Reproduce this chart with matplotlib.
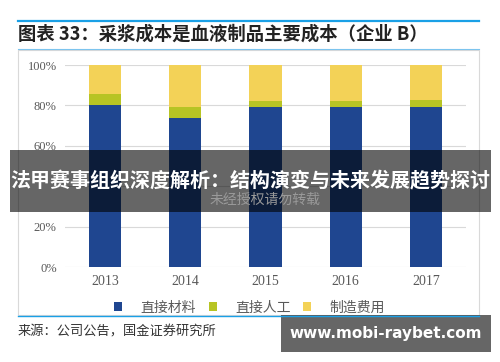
import matplotlib
matplotlib.use("Agg")
import matplotlib.pyplot as plt
import numpy as np
from matplotlib.patches import Rectangle

plt.rcParams['font.family'] = ['Noto Sans CJK SC', 'DejaVu Sans']

years = ['2013', '2014', '2015', '2016', '2017']
materials = [0.80, 0.736, 0.79, 0.79, 0.793]   # 直接材料
labour = [0.056, 0.054, 0.033, 0.033, 0.035]   # 直接人工
overhead = [1 - m - l for m, l in zip(materials, labour)]  # 制造费用
series_names = ['直接材料', '直接人工', '制造费用']
colors = ['#1f4690', '#b7c424', '#f3d257']
ytick_vals = [0, 0.2, 0.4, 0.6, 0.8, 1.0]
ytick_labels = ['0%', '20%', '', '60%', '80%', '100%']  # 40% sits under the banner

fig = plt.figure(figsize=(5, 3.62), dpi=100)

# header lines and frame
fig.add_artist(plt.Line2D([0.036, 0.958], [0.943, 0.943], color='#1aa0e6', lw=1.6))
fig.add_artist(plt.Line2D([0.036, 0.958], [0.864, 0.864], color='#7cc4ee', lw=0.8))
fig.add_artist(plt.Line2D([0.036, 0.958], [0.127, 0.127], color='#1aa0e6', lw=1.0))
fig.add_artist(Rectangle((0.036, 0.13), 0.922, 0.732, fill=False, ec='#d9d9d9', lw=0.8))

fig.text(0.036, 0.907, '图表 33：采浆成本是血液制品主要成本（企业 B）', fontsize=13.2,
         fontweight='bold', style='italic', color='#222222', va='center', ha='left')
fig.text(0.036, 0.083, '来源：公司公告，国金证券研究所', fontsize=9.5, color='#333333',
         va='center', ha='left')

ax = fig.add_axes([0.13, 0.2624, 0.802, 0.558])
x = np.arange(len(years))
bottom = np.zeros(len(years))
for vals, name, c in zip([materials, labour, overhead], series_names, colors):
    ax.bar(x, vals, 0.4, bottom=bottom, color=c, label=name, zorder=3)
    bottom += np.array(vals)

ax.set_ylim(0, 1)
ax.set_xlim(-0.5, len(years) - 0.5)
ax.set_yticks(ytick_vals)
ax.set_yticklabels(ytick_labels, family=['Liberation Serif'], fontsize=9, color='#595959')
ax.set_xticks(x)
ax.set_xticklabels(years, family=['Liberation Serif'], fontsize=10, color='#595959')
ax.tick_params(length=0, pad=6)
ax.grid(axis='y', color='#d9d9d9', lw=0.8, zorder=0)
for s in ax.spines.values():
    s.set_visible(False)

ax.legend(loc='upper center', bbox_to_anchor=(0.46, -0.105), ncol=3, frameon=False,
          fontsize=10, handlelength=0.6, handleheight=0.6, columnspacing=0.9,
          handletextpad=1.3, labelcolor='#595959')

# faint watermark behind the banner
fig.text(0.53, 0.447, '未经授权请勿转载', fontsize=10, color='#9a9a9a', ha='center', va='center')

# overlay banner
fig.add_artist(Rectangle((0.02, 0.414), 0.962, 0.171, color='black', alpha=0.6, lw=0))
fig.text(0.5, 0.5, '法甲赛事组织深度解析：结构演变与未来发展趋势探讨', fontsize=14.4,
         fontweight='bold', color='white', ha='center', va='center')

fig.add_artist(Rectangle((0.562, 0.028), 0.42, 0.102, color='black', alpha=0.6, lw=0))
fig.text(0.772, 0.079, 'www.mobi-raybet.com', fontsize=11, fontweight='bold',
         color='white', ha='center', va='center', family=['DejaVu Sans'])

fig.savefig('out.png', dpi=100)
